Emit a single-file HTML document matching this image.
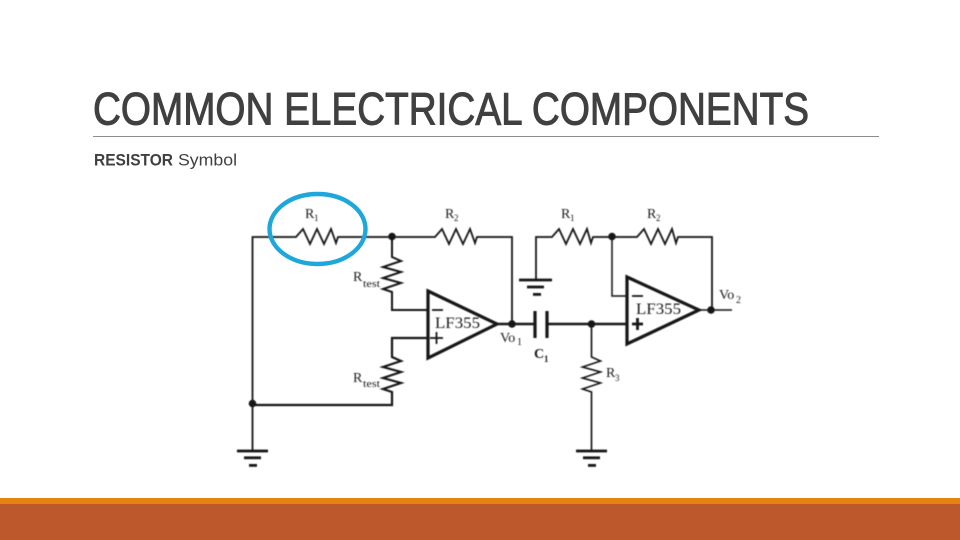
<!DOCTYPE html>
<html><head><meta charset="utf-8"><style>
html,body{margin:0;padding:0;background:#fff;width:960px;height:540px;overflow:hidden}
svg{display:block}
.s{font-family:"Liberation Serif",serif;fill:#1c1c1c}
.w{fill:none;stroke:#161616;stroke-width:1.8;stroke-linejoin:miter}
.t{fill:none;stroke:#161616;stroke-width:3.2}
</style></head><body>
<svg width="960" height="540" viewBox="0 0 960 540" xmlns="http://www.w3.org/2000/svg">
<defs><filter id="b" x="-5%" y="-5%" width="110%" height="110%"><feGaussianBlur stdDeviation="0.4"/></filter></defs>
<rect width="960" height="540" fill="#fff"/>
<text x="93" y="124.5" font-family="Liberation Sans,sans-serif" font-size="45" fill="#404040" stroke="#404040" stroke-width="1" textLength="716" lengthAdjust="spacingAndGlyphs">COMMON ELECTRICAL COMPONENTS</text>
<rect x="93" y="136" width="786" height="1" fill="#8c8c8c"/>
<text x="94" y="165.5" font-family="Liberation Sans,sans-serif" font-size="17" font-weight="bold" fill="#404040" textLength="79" lengthAdjust="spacingAndGlyphs">RESISTOR</text>
<text x="178" y="165.5" font-family="Liberation Sans,sans-serif" font-size="17" fill="#404040" textLength="59" lengthAdjust="spacingAndGlyphs">Symbol</text>

<g filter="url(#b)">
<polyline class="w" points="252.5,450 252.5,237 296,237 303,229 310,244 317,229 324,244 331,229 336,243 338,237 435,237 442,229 449,244 456,229 463,244 470,229 475,243 477,237 512,237 512,324"/>
<polyline class="w" points="392,237 392,257 401,261 383,267 401,272 383,278 401,283 383,289 392,292 392,310 428,310" style="stroke-width:2"/>
<polyline class="w" points="428,338 392,338 392,357 401,361 383,367 401,372 383,378 401,383 383,389 392,392 392,405 252,405" style="stroke-width:2.2"/>
<polygon class="t" points="428,291 497,324 428,358"/>
<line class="w" x1="498" y1="324" x2="535" y2="324" style="stroke-width:2.4"/>
<line class="t" x1="535" y1="311" x2="535" y2="338"/>
<line class="t" x1="547" y1="311" x2="547" y2="338"/>
<line class="w" x1="547" y1="324" x2="628" y2="324" style="stroke-width:2.4"/>
<polyline class="w" points="536,280 536,237 552,237 559,229 566,244 573,229 580,244 587,229 591,243 593,237 637,237 644,229 651,244 658,229 665,244 672,229 676,243 678,237 712,237 712,310"/>
<polyline class="w" points="612,237 612,296 628,296" style="stroke-width:1.5"/>
<polyline class="w" points="591.5,324 591.5,357 600.5,361 582.5,367 600.5,372 582.5,378 600.5,383 582.5,389 591.5,392 591.5,450" style="stroke-width:1.6"/>
<polygon class="t" points="627,277 699,310 627,344"/>
<line class="w" x1="700" y1="310" x2="732" y2="310" style="stroke-width:1.5"/>
<line class="w" x1="432" y1="310" x2="443" y2="310"/>
<line class="w" x1="430" y1="338" x2="443" y2="338"/><line class="w" x1="436.5" y1="332" x2="436.5" y2="344"/>
<line class="w" x1="632" y1="296" x2="643" y2="296"/>
<line class="w" x1="632" y1="324" x2="643" y2="324" style="stroke-width:2.8"/><line class="w" x1="637.5" y1="318" x2="637.5" y2="330" style="stroke-width:2.8"/>
<g fill="#161616">
<rect x="237" y="449.6" width="31" height="2.8"/><rect x="244" y="456.4" width="17" height="2.8"/><rect x="249" y="464" width="8" height="2.8"/>
<rect x="576" y="449.6" width="31" height="2.8"/><rect x="583" y="456.4" width="17" height="2.8"/><rect x="588" y="464" width="8" height="2.8"/>
<rect x="519" y="278.6" width="33" height="2.8"/><rect x="527" y="285.6" width="17" height="2.8"/><rect x="533" y="293" width="8" height="2.8"/>
<circle cx="392" cy="236.5" r="3.8"/><circle cx="512" cy="324" r="3.8"/><circle cx="591.5" cy="324" r="3.8"/>
<circle cx="612" cy="236.5" r="3.8"/><circle cx="711" cy="310" r="3.8"/><circle cx="252.5" cy="403.5" r="3.8"/>
</g>
<g class="s">
<text x="305" y="218" font-size="14">R</text><text x="314" y="221" font-size="9">1</text>
<text x="445" y="218" font-size="14">R</text><text x="454" y="221" font-size="9">2</text>
<text x="561" y="218" font-size="14">R</text><text x="570" y="221" font-size="9">1</text>
<text x="647" y="218" font-size="14">R</text><text x="656" y="221" font-size="9">2</text>
<text x="353" y="281" font-size="14">R</text><text x="363" y="287" font-size="10" textLength="17" lengthAdjust="spacingAndGlyphs">test</text>
<text x="353" y="382" font-size="14">R</text><text x="363" y="387" font-size="10" textLength="17" lengthAdjust="spacingAndGlyphs">test</text>
<text x="435" y="328" font-size="16" textLength="45" lengthAdjust="spacingAndGlyphs">LF355</text>
<text x="636" y="314" font-size="16" textLength="45" lengthAdjust="spacingAndGlyphs">LF355</text>
<text x="500" y="342" font-size="14">Vo</text><text x="517" y="345" font-size="10">1</text>
<text x="719" y="299" font-size="14">Vo</text><text x="736" y="303" font-size="10">2</text>
<text x="534" y="358" font-size="14" font-weight="bold">C</text><text x="544" y="362" font-size="9" font-weight="bold">1</text>
<text x="606" y="377" font-size="14">R</text><text x="615" y="381" font-size="9">3</text>
</g>
</g>

<ellipse cx="317.5" cy="229" rx="48" ry="35" fill="none" stroke="#1ea7dc" stroke-width="4.4"/>
<rect x="0" y="498" width="960" height="6" fill="#e48312"/>
<rect x="0" y="504" width="960" height="36" fill="#bd582c"/>
</svg>
</body></html>
